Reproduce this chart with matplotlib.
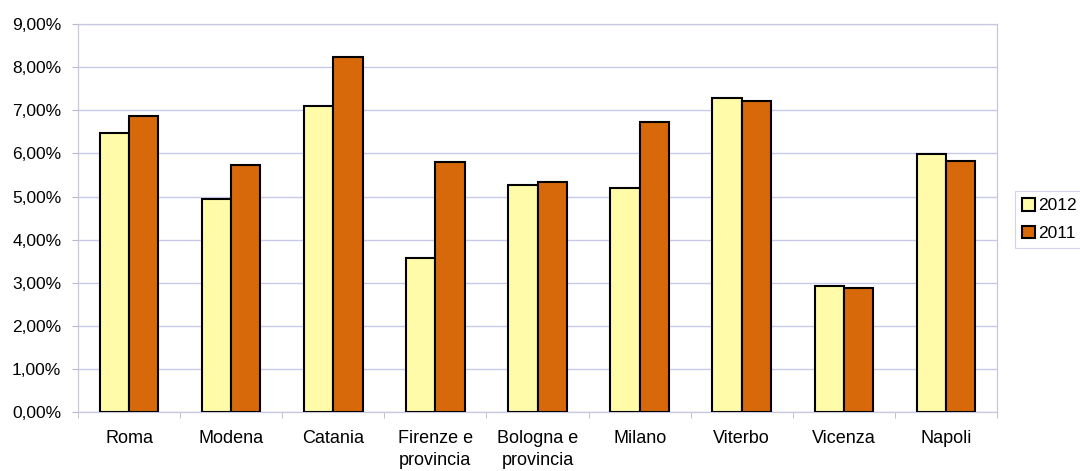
import matplotlib
matplotlib.use('Agg')
import matplotlib.pyplot as plt
import numpy as np
from matplotlib.ticker import FuncFormatter, FixedLocator

plt.rcParams['font.family'] = ['Liberation Sans', 'DejaVu Sans']

# percentage values by city
cities = ['Roma', 'Modena', 'Catania', 'Firenze e\nprovincia', 'Bologna e\nprovincia',
          'Milano', 'Viterbo', 'Vicenza', 'Napoli']
val_2012 = [6.47, 4.94, 7.10, 3.57, 5.26, 5.21, 7.29, 2.93, 5.98]
val_2011 = [6.87, 5.73, 8.23, 5.81, 5.34, 6.73, 7.22, 2.88, 5.83]
years = ['2012', '2011']

col_2012 = '#FFFBA8'
col_2011 = '#D8690A'
grid_col = '#C8C8EC'

fig = plt.figure(figsize=(10.8, 4.71), dpi=100)
ax = fig.add_axes([0.0722, 0.1246, 0.8510, 0.8244])

x = np.arange(len(cities))
w = 0.287
ax.bar(x - w / 2, val_2012, w, color=col_2012, edgecolor='black', linewidth=1.5,
       label=years[0], zorder=3)
ax.bar(x + w / 2, val_2011, w, color=col_2011, edgecolor='black', linewidth=1.5,
       label=years[1], zorder=3)

ax.set_xlim(-0.5, len(cities) - 0.5)
ax.set_ylim(0, 9)
ax.set_yticks(np.arange(0, 10, 1))
ax.yaxis.set_major_formatter(FuncFormatter(lambda v, p: ('%.2f%%' % v).replace('.', ',')))
ax.yaxis.grid(True, color=grid_col, linewidth=1, zorder=0)

ax.set_xticks(x)
ax.set_xticklabels(cities, fontsize=13, linespacing=1.35)
ax.xaxis.set_minor_locator(FixedLocator(np.arange(-0.5, len(cities), 1)))
ax.tick_params(axis='x', which='major', length=0, pad=13)
ax.tick_params(axis='x', which='minor', length=4, color='#B8B8C8')
ax.tick_params(axis='y', length=4, color='#B8B8C8', labelsize=12.5, pad=8)
for lab in ax.get_xticklabels():
    lab.set_verticalalignment('top')

for side in ['left', 'bottom', 'right', 'top']:
    ax.spines[side].set_color('#C8C8DC')
    ax.spines[side].set_linewidth(0.9)

leg = fig.legend(loc='upper left', bbox_to_anchor=(1015 / 1080, 1 - 191 / 471),
                 fontsize=12.5, frameon=True, fancybox=False, handlelength=0.75,
                 handleheight=0.75, handletextpad=0.2, borderpad=0.4,
                 labelspacing=0.7, borderaxespad=0)
leg.get_frame().set_edgecolor('#C8C8E8')
leg.get_frame().set_linewidth(0.8)

fig.savefig('out.png', dpi=100)
